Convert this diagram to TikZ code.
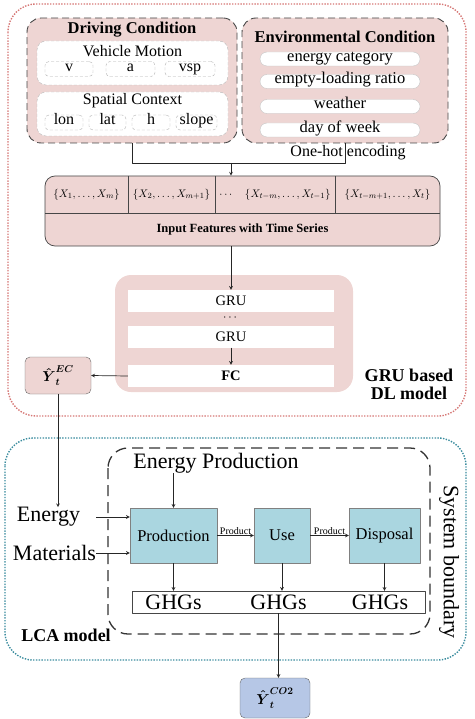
\documentclass[tikz,border=0pt]{standalone}
\usepackage{amsmath}
\usepackage{fontspec}
\setmainfont{Liberation Serif}[BoldFont={Liberation Serif Bold}]
\usetikzlibrary{arrows.meta}
\definecolor{dlpink}{RGB}{238,213,211}
\definecolor{dlred}{RGB}{214,120,118}
\definecolor{lcateal}{RGB}{58,140,158}
\definecolor{stageblue}{RGB}{170,214,224}
\definecolor{outblue}{RGB}{182,199,230}
\definecolor{edge}{RGB}{70,70,70}
\tikzset{
  sz/.style={font=\fontsize{#1}{#1}\selectfont},
  condbox/.style={draw=edge, fill=dlpink, line width=.9pt, dash pattern=on 7pt off 4pt, rounded corners=14pt},
  panel/.style={draw=gray!55, fill=white, dash pattern=on 3pt off 2pt, rounded corners=9pt, minimum width=191pt, minimum height=44pt},
  chip/.style={draw=gray!60, fill=white, dash pattern=on 3pt off 2pt, rounded corners=4pt, minimum height=15pt, inner sep=0pt, text height=.7em, text depth=.22em, sz=16},
  pill/.style={draw=gray!45, fill=white, rounded corners=7pt, minimum width=160pt, minimum height=14pt, inner sep=0pt, text height=.7em, text depth=.22em, sz=16.5},
  bar/.style={fill=white, minimum width=206pt, minimum height=22pt, inner sep=0pt, sz=14.5},
  stage/.style={draw=gray, fill=stageblue, minimum height=55pt, inner sep=0pt, sz=16.5},
  outbox/.style={draw=gray!80!black, rounded corners=5pt, inner sep=0pt},
  conn/.style={draw=black!85, line width=.7pt}
}
\begin{document}
\begin{tikzpicture}[x=1pt, y=-1pt, line join=round, >=stealth]
\useasboundingbox (0,0) rectangle (474,719);
% GRU based DL model
\draw[dlred, line width=1.4pt, dash pattern=on 1.4pt off 1.4pt, rounded corners=28pt] (8,4) rectangle (466,416);
\node[condbox, minimum width=210pt, minimum height=125pt] (drive) at (132,80.5) {};
\node[condbox, minimum width=206pt, minimum height=125pt] (env) at (345,80.5) {};
\node[sz=16.5, inner sep=0] (drivet) at (132,30) {\textbf{Driving Condition}};
\node[panel] (motion) at (132.5,63) {};
\node[panel] (spatial) at (132.5,114) {};
\node[sz=16, inner sep=0] (motiont) at (132.5,51) {Vehicle Motion};
\foreach \lab/\xc/\w [count=\i] in {v/69/48, a/130.5/49, vsp/190/50}
  \node[chip, minimum width=\w pt] (mot\i) at (\xc,69) {\lab};
\node[sz=16, inner sep=0] (spatialt) at (132.5,101) {Spatial Context};
\foreach \lab/\xc/\w [count=\i] in {lon/64/38, lat/107.5/37, h/151/38, slope/196.5/41}
  \node[chip, minimum width=\w pt] (spa\i) at (\xc,122.5) {\lab};
\node[sz=16.5, inner sep=0] (envt) at (345,37) {\textbf{Environmental Condition}};
\foreach \lab/\yc [count=\i] in {energy category/59, empty-loading ratio/81.5, weather/106.5, day of week/130}
  \node[pill] (item\i) at (340,\yc) {\lab};
% input features
\node[draw=edge, fill=dlpink, rounded corners=10pt, minimum width=395pt, minimum height=70pt, line width=.7pt] (feat) at (242.5,211) {};
\draw[edge, line width=.7pt] (45,213) -- (440,213);
\foreach \xd in {128,215,335}
  \draw[edge, line width=.7pt] (\xd,176) -- (\xd,213);
\foreach \txt/\xc [count=\i] in {{$\{X_1,\dots,X_m\}$}/86.5, {$\{X_2,\dots,X_{m+1}\}$}/171.5, {$\cdots$\quad$\{X_{t-m},\dots,X_{t-1}\}$}/275, {$\{X_{t-m+1},\dots,X_t\}$}/387.5}
  \node[sz=11, inner sep=0] (cell\i) at (\xc,194.5) {\txt};
\node[sz=12.5, inner sep=0] (featt) at (242.5,229.5) {\textbf{Input Features with Time Series}};
\coordinate (split) at (231,163);
\draw[conn] (drive.south) |- (split);
\draw[conn] (env.south) |- (split);
\draw[conn,->] (split) -- (split |- feat.north);
\node[sz=16, inner sep=0] (onehot) at (348,153) {One-hot encoding};
% GRU stack
\node[fill=dlpink, rounded corners=16pt, minimum width=238pt, minimum height=117pt] (gru) at (234,333.5) {};
\node[bar] (gru1) at (231,301) {GRU};
\node[sz=13, inner sep=0] (gdots) at (231,318) {$\cdots$};
\node[bar] (gru2) at (231,336.5) {GRU};
\node[bar] (fc) at (231,376) {\textbf{FC}};
\node[outbox, fill=dlpink, minimum width=66pt, minimum height=37pt, sz=14] (yec) at (58,375.5) {$\boldsymbol{\hat{Y}}_{\boldsymbol{t}}^{\boldsymbol{EC}}$};
\draw[conn,->] (gru1.north |- feat.south) -- (gru1.north);
\draw[conn,->] (gru2) -- (fc);
\draw[conn,->] (fc.west) -- (yec.east);
\node[sz=18, align=center, inner sep=0] (dlt) at (409,384) {\textbf{GRU based}\\\textbf{DL model}};
% LCA model
\draw[lcateal, line width=1.4pt, dash pattern=on 1.4pt off 1.4pt, rounded corners=28pt] (5,438) rectangle (466,660);
\draw[black!80, line width=1.3pt, dash pattern=on 11pt off 6pt, rounded corners=20pt] (108,448) rectangle (430,634);
\node[sz=22, rotate=-90, inner sep=0] (sysb) at (449,562) {System boundary};
\node[sz=22, inner sep=0] (ep) at (216,463) {Energy Production};
\node[sz=22, inner sep=0] (energy) at (48.5,517) {Energy};
\node[sz=22, inner sep=0] (mater) at (54.5,553) {Materials};
\node[stage, minimum width=87pt] (prod) at (173.5,535.5) {Production};
\node[stage, minimum width=56pt] (usage) at (282,535.5) {Use};
\node[stage, minimum width=71pt] (disp) at (384.5,535.5) {Disposal};
\draw[conn,->] (yec.south) -- (yec.south |- energy.north);
\draw[conn,->] (prod.north |- ep.south) -- (prod.north);
\draw[conn,->] ([xshift=16pt]energy.east) -- (prod.west |- energy.east);
\draw[conn,->] (mater.east) -- (prod.west |- mater.east);
\draw[conn,->] (prod) -- node[above, sz=10, inner sep=1pt] (prod1) {Product} (usage);
\draw[conn,->] (usage) -- node[above, sz=10, inner sep=1pt] (prod2) {Product} (disp);
\node[draw=edge, fill=white, minimum width=293pt, minimum height=22pt, inner sep=0] (ghg) at (278.5,602) {};
\foreach \xc [count=\i] in {173.5,278.5,380}
  \node[sz=22, inner sep=0] (ghg\i) at (\xc,602) {GHGs};
\foreach \s in {prod,usage,disp}
  \draw[conn,->] (\s.south) -- (\s.south |- ghg.north);
\node[sz=18, inner sep=0] (lcat) at (66,635) {\textbf{LCA model}};
\node[outbox, fill=outblue, minimum width=70pt, minimum height=40pt, sz=14] (yco) at (275,698) {$\boldsymbol{\hat{Y}}_{\boldsymbol{t}}^{\boldsymbol{CO2}}$};
\draw[conn,->] (ghg.south) -- (ghg.south |- yco.north);
\end{tikzpicture}
\end{document}
